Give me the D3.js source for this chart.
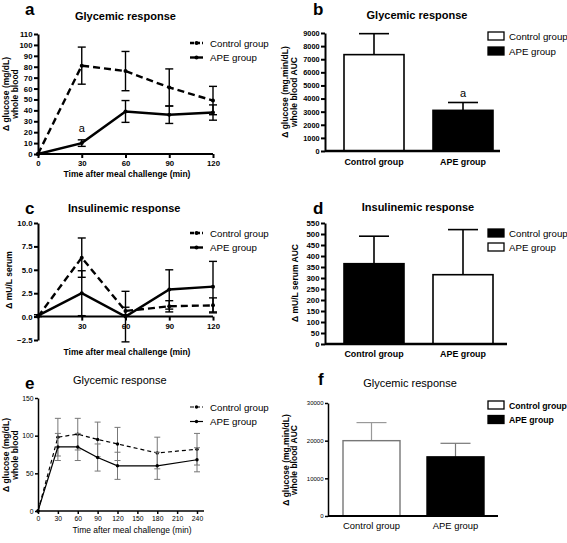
<!DOCTYPE html>
<html><head><meta charset="utf-8">
<script src="https://cdn.jsdelivr.net/npm/d3@7"></script>
<style>body{margin:0;background:#fff} svg{display:block;font-family:"Liberation Sans",Arial,sans-serif}</style>
</head><body><svg id="chart" width="567" height="543"></svg>
<script>
// ---------------- data ----------------
const groups = ["Control group", "APE group"];

// panel a – glycemic response (line)
const timeA = [0, 30, 60, 90, 120];
const ctrlA = [0, 81, 76, 61, 49];
const ctrlAErr = [0, 17, 18, 17, 13];
const apeA = [0, 10, 39, 36, 38];
const apeAErr = [0, 3, 10, 8, 7];
const yTicksA = [0, 10, 20, 30, 40, 50, 60, 70, 80, 90, 100, 110];
const xTicksA = [0, 30, 60, 90, 120];

// panel b – glycemic AUC (bars)
const aucB = [7350, 3100];
const aucBErr = [1600, 600];
const yTicksB = [0, 1000, 2000, 3000, 4000, 5000, 6000, 7000, 8000, 9000];

// panel c – insulinemic response (line)
const timeC = [0, 30, 60, 90, 120];
const ctrlC = [0, 6.3, 0.6, 1.1, 1.2];
const ctrlCErr = [0, 2.1, 0.4, 0.6, 0.8];
const apeC = [0.1, 2.5, 0, 2.9, 3.2];
const apeCErr = [0.1, 2.4, 2.7, 2.1, 2.7];
const yTicksC = [-2.5, 0, 2.5, 5, 7.5, 10];
const xTicksC = [30, 60, 90, 120];

// panel d – insulinemic AUC (bars)
const aucD = [365, 315];
const aucDErr = [125, 205];
const yTicksD = [0, 50, 100, 150, 200, 250, 300, 350, 400, 450, 500, 550];

// panel e – glycemic response (line, 240 min)
const timeE = [0, 30, 60, 90, 120, 180, 240];
const ctrlE = [0, 98, 102, 95, 89, 77, 82];
const ctrlEErr = [0, 25, 21, 23, 22, 21, 21];
const apeE = [0, 85, 85, 71, 60, 60, 68];
const apeEErr = [0, 18, 18, 18, 18, 18, 16];
const yTicksE = [0, 50, 100, 150];
const xTicksE = [0, 30, 60, 90, 120, 150, 180, 210, 240];

// panel f – glycemic AUC (bars)
const aucF = [20000, 15700];
const aucFErr = [4800, 3600];
const yTicksF = [0, 10000, 20000, 30000];

// ---------------- drawing ----------------
const svg = d3.select("#chart");
const FONT = '"Liberation Sans", Arial, sans-serif';

function txt(g, x, y, s, o = {}) {
  const t = g.append("text").attr("x", x).attr("y", y).text(s)
    .attr("font-size", o.size || 9).attr("font-weight", o.bold ? "bold" : "normal")
    .attr("text-anchor", o.anchor || "start").attr("fill", "#000");
  if (o.rotate) t.attr("transform", `rotate(-90,${x},${y})`);
  return t;
}

function styleAxis(sel, sw, fs, bold) {
  sel.select(".domain").attr("stroke", "#000").attr("stroke-width", sw);
  sel.selectAll(".tick line").attr("stroke", "#000").attr("stroke-width", sw);
  sel.selectAll(".tick text").attr("font-size", fs).attr("font-weight", bold ? "bold" : "normal")
    .attr("font-family", FONT).attr("fill", "#000");
}

function linePanel(c) {
  const g = svg.append("g");
  const x = d3.scaleLinear().domain(c.xDom).range([c.left, c.right]);
  const y = d3.scaleLinear().domain(c.yDom).range([c.bottom, c.top]);
  const ya = g.append("g").attr("transform", `translate(${c.left},0)`)
    .call(d3.axisLeft(y).tickValues(c.yTicks).tickSize(c.tick).tickSizeOuter(0).tickPadding(1.5).tickFormat(c.yFmt));
  styleAxis(ya, c.axisW, c.tickFs, c.bold);
  const xa = g.append("g").attr("transform", `translate(0,${y(c.xAxisAt)})`)
    .call(d3.axisBottom(x).tickValues(c.xTicks).tickSize(c.tick).tickSizeOuter(0).tickPadding(c.xPad || 2).tickFormat(d3.format("d")));
  xa.select(".domain").attr("d", `M${c.left},0H${c.axisRight}`);
  styleAxis(xa, c.axisW, c.tickFs, c.bold);

  const series = [
    { t: c.time, v: c.ctrl, e: c.ctrlErr, dash: c.dash },
    { t: c.time, v: c.ape, e: c.apeErr, dash: null }
  ];
  series.forEach(s => {
    const pts = s.t.map((t, i) => ({ t, v: s.v[i], e: s.e[i] }));
    const eb = g.append("g").attr("stroke", c.errColor).attr("stroke-width", c.errW);
    pts.filter(p => p.e > 0).forEach(p => {
      const px = x(p.t);
      eb.append("line").attr("x1", px).attr("x2", px).attr("y1", y(p.v - p.e)).attr("y2", y(p.v + p.e));
      [p.v - p.e, p.v + p.e].forEach(v => eb.append("line")
        .attr("x1", px - c.cap).attr("x2", px + c.cap).attr("y1", y(v)).attr("y2", y(v)));
    });
    g.append("path").datum(pts)
      .attr("d", d3.line().x(p => x(p.t)).y(p => y(p.v)))
      .attr("fill", "none").attr("stroke", "#000").attr("stroke-width", c.lineW)
      .attr("stroke-dasharray", s.dash);
    g.selectAll(null).data(pts).enter().append("circle")
      .attr("cx", p => x(p.t)).attr("cy", p => y(p.v)).attr("r", c.markR).attr("fill", "#000");
  });
  if (c.annot) txt(g, x(c.annot[0]), y(c.annot[1]), "a", { size: 11, anchor: "middle" });
  groups.forEach((name, i) => {
    const ly = c.legY + i * c.legGap;
    g.append("line").attr("x1", c.legX).attr("x2", c.legX + 13).attr("y1", ly).attr("y2", ly)
      .attr("stroke", "#000").attr("stroke-width", c.lineW).attr("stroke-dasharray", i === 0 ? "4,2" : null);
    g.append("circle").attr("cx", c.legX + 6.5).attr("cy", ly).attr("r", c.markR).attr("fill", "#000");
    txt(g, c.legX + 20, ly + 3.5, name, { size: 9.7 });
  });
  txt(g, c.titleX, c.titleY, c.title, { size: 11, bold: c.bold });
  txt(g, c.letterX, c.letterY, c.letter, { size: 17, bold: true });
  txt(g, c.xLabX, c.xLabY, "Time after meal challenge (min)", { size: 8.5, bold: c.bold, anchor: "middle" });
  c.yLab.forEach((l, i) => txt(g, c.yLabX[i], c.yLabY, l, { size: 8.5, bold: true, anchor: "middle", rotate: true }));
}

function barPanel(c) {
  const g = svg.append("g");
  const step = c.c1 - c.c0, p = 1 - c.bw / step;
  const x = d3.scaleBand().domain(groups).range([c.c0 - step / 2, c.c1 + step / 2]).paddingInner(p).paddingOuter(p / 2);
  const y = d3.scaleLinear().domain(c.yDom).range([c.bottom, c.top]);
  const ya = g.append("g").attr("transform", `translate(${c.left},0)`)
    .call(d3.axisLeft(y).tickValues(c.yTicks).tickSize(c.tick).tickSizeOuter(0).tickPadding(1.5).tickFormat(d3.format("d")));
  styleAxis(ya, c.axisW, c.tickFs, c.bold);
  groups.forEach((gname, i) => {
    const bx = x(gname), top = y(c.vals[i]), errTop = y(c.vals[i] + c.errs[i]);
    const cx = bx + x.bandwidth() / 2;
    g.append("line").attr("x1", cx).attr("x2", cx).attr("y1", top).attr("y2", errTop)
      .attr("stroke", c.errColor[i]).attr("stroke-width", c.errW);
    g.append("line").attr("x1", cx - c.cap).attr("x2", cx + c.cap).attr("y1", errTop).attr("y2", errTop)
      .attr("stroke", c.errColor[i]).attr("stroke-width", c.errW);
    g.append("rect").attr("x", bx).attr("width", x.bandwidth())
      .attr("y", top).attr("height", y(c.yDom[0]) - top)
      .attr("fill", c.fills[i]).attr("stroke", c.strokes[i]).attr("stroke-width", c.barW);
    txt(g, cx, c.xLabY, gname, { size: c.xLabFs, bold: c.bold, anchor: "middle" });
  });
  g.append("line").attr("x1", c.left).attr("x2", c.axisRight).attr("y1", y(c.yDom[0])).attr("y2", y(c.yDom[0]))
    .attr("stroke", "#000").attr("stroke-width", c.axisW + 0.5);
  if (c.annot != null) txt(g, x(groups[c.annot]) + x.bandwidth() / 2, y(c.vals[c.annot] + c.errs[c.annot]) - 5, "a", { size: 11, anchor: "middle" });
  groups.forEach((name, i) => {
    const ly = c.legY + i * c.legGap;
    g.append("rect").attr("x", c.legX).attr("y", ly - 4).attr("width", 16).attr("height", 8)
      .attr("fill", c.fills[i]).attr("stroke", "#000").attr("stroke-width", 1.3);
    txt(g, c.legX + 21, ly + 3.5, name, { size: c.legFs || 9.7, bold: c.legBold });
  });
  txt(g, c.titleX, c.titleY, c.title, { size: 11, bold: c.bold, anchor: "middle" });
  txt(g, c.letterX, c.letterY, c.letter, { size: 17, bold: true });
  c.yLab.forEach((l, i) => txt(g, c.yLabX[i], c.yLabY, l, { size: 8.5, bold: true, anchor: "middle", rotate: true }));
}

// panel a
linePanel({
  left: 38, right: 213, axisRight: 213, top: 34, bottom: 154, xDom: [0, 120], yDom: [0, 110],
  yTicks: yTicksA, xTicks: xTicksA, xAxisAt: 0, yFmt: d3.format("d"),
  tick: 4, axisW: 2, tickFs: 7.8, bold: true, lineW: 2.4, dash: "7,4", markR: 2, errW: 1.4, errColor: "#000", cap: 4,
  time: timeA, ctrl: ctrlA, ctrlErr: ctrlAErr, ape: apeA, apeErr: apeAErr,
  annot: [30, 20], legX: 190, legY: 43, legGap: 14.5,
  title: "Glycemic response", titleX: 75, titleY: 20, letter: "a", letterX: 25, letterY: 15,
  xLabX: 127, xLabY: 177, yLab: ["Δ glucose (mg/dL)", "whole blood"], yLabX: [9, 18], yLabY: 94
});

// panel b
barPanel({
  left: 325, axisRight: 500, top: 33, bottom: 151, yDom: [0, 9000], yTicks: yTicksB,
  c0: 374, c1: 463, bw: 60, vals: aucB, errs: aucBErr, fills: ["#fff", "#000"], strokes: ["#000", "#000"],
  errColor: ["#000", "#000"], errW: 1.6, barW: 1.6, cap: 15,
  tick: 4, axisW: 2, tickFs: 7.3, bold: true, xLabY: 165, xLabFs: 8.9, annot: 1,
  legX: 488, legY: 36, legGap: 15,
  title: "Glycemic response", titleX: 417, titleY: 19, letter: "b", letterX: 313, letterY: 15,
  yLab: ["Δ glucose (mg.min/dL)", "whole blood AUC"], yLabX: [288, 297], yLabY: 92
});

// panel c
linePanel({
  left: 38, right: 213, axisRight: 213, top: 223, bottom: 340, xDom: [0, 120], yDom: [-2.5, 10],
  yTicks: yTicksC, xTicks: xTicksC, xAxisAt: 0, yFmt: d3.format(".1f"), xPad: 3,
  tick: 4, axisW: 2, tickFs: 7.8, bold: true, lineW: 2.4, dash: "7,4", markR: 2, errW: 1.4, errColor: "#000", cap: 4,
  time: timeC, ctrl: ctrlC, ctrlErr: ctrlCErr, ape: apeC, apeErr: apeCErr,
  legX: 190, legY: 233, legGap: 14.5,
  title: "Insulinemic response", titleX: 68, titleY: 212, letter: "c", letterX: 25, letterY: 214,
  xLabX: 127, xLabY: 355, yLab: ["Δ mU/L serum"], yLabX: [12], yLabY: 280
});

// panel d
barPanel({
  left: 325, axisRight: 507, top: 223, bottom: 344, yDom: [0, 550], yTicks: yTicksD,
  c0: 374, c1: 463, bw: 60, vals: aucD, errs: aucDErr, fills: ["#000", "#fff"], strokes: ["#000", "#000"],
  errColor: ["#000", "#000"], errW: 1.6, barW: 1.6, cap: 15,
  tick: 4, axisW: 2, tickFs: 7.8, bold: true, xLabY: 357, xLabFs: 8.9,
  legX: 488, legY: 233, legGap: 14,
  title: "Insulinemic response", titleX: 418, titleY: 211, letter: "d", letterX: 313, letterY: 214,
  yLab: ["Δ mU/L serum AUC"], yLabX: [298], yLabY: 283
});

// panel e
linePanel({
  left: 38, right: 197, axisRight: 204, top: 398, bottom: 511, xDom: [0, 240], yDom: [0, 150],
  yTicks: yTicksE, xTicks: xTicksE, xAxisAt: 0, yFmt: d3.format("d"),
  tick: 3, axisW: 1.5, tickFs: 6.8, bold: false, lineW: 1.2, dash: "4,3", markR: 1.7, errW: 1, errColor: "#777", cap: 3,
  time: timeE, ctrl: ctrlE, ctrlErr: ctrlEErr, ape: apeE, apeErr: apeEErr,
  legX: 190, legY: 407, legGap: 14.5,
  title: "Glycemic response", titleX: 73, titleY: 384, letter: "e", letterX: 25, letterY: 389,
  xLabX: 132, xLabY: 533, yLab: ["Δ glucose (mg/dL)", "whole blood"], yLabX: [9, 18], yLabY: 455
});

// panel f
barPanel({
  left: 328, axisRight: 498, top: 403, bottom: 516, yDom: [0, 30000], yTicks: yTicksF,
  c0: 371.5, c1: 455.5, bw: 57, vals: aucF, errs: aucFErr, fills: ["#fff", "#000"], strokes: ["#777", "#000"],
  errColor: ["#999", "#777"], errW: 1.2, barW: 1.4, cap: 15,
  tick: 3, axisW: 1.5, tickFs: 6, bold: false, xLabY: 529, xLabFs: 9.4, legBold: true, legFs: 8.7,
  legX: 488, legY: 405, legGap: 14.5,
  title: "Glycemic response", titleX: 410, titleY: 387, letter: "f", letterX: 318, letterY: 385,
  yLab: ["Δ glucose (mg.min/dL)", "whole blood AUC"], yLabX: [289, 297], yLabY: 460
});
</script></body></html>
